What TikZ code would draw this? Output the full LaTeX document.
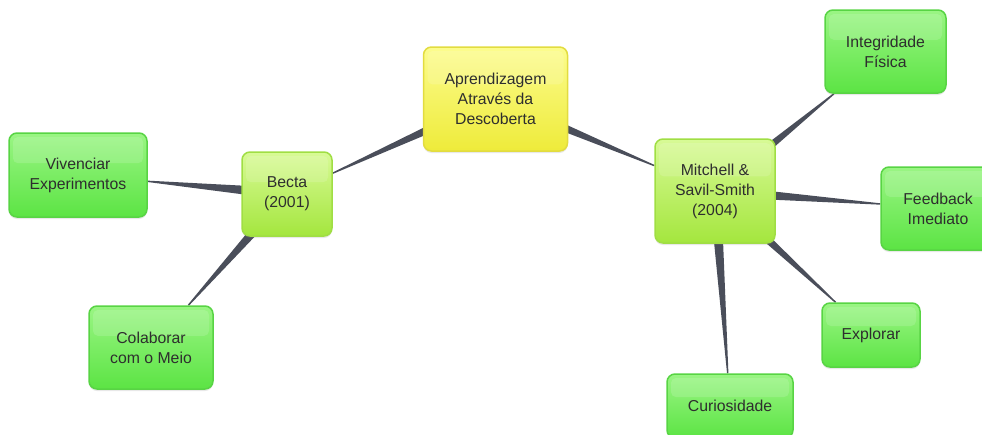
\documentclass[tikz,border=0pt]{standalone}
\usepackage{fontspec}
\setmainfont{Liberation Sans}
\usetikzlibrary{calc,shadows}
\pgfdeclarelayer{background}
\pgfsetlayers{background,main}
\definecolor{conncol}{HTML}{4A4E5A}
\definecolor{txtcol}{HTML}{2E2E2E}
\definecolor{leafTop}{HTML}{9AF584}
\definecolor{leafBot}{HTML}{5CE444}
\definecolor{leafBd}{HTML}{58D444}
\definecolor{midTop}{HTML}{D8FA96}
\definecolor{midBot}{HTML}{A4E63E}
\definecolor{midBd}{HTML}{A0DE44}
\definecolor{rootTop}{HTML}{FCFC8E}
\definecolor{rootBot}{HTML}{EEEB3A}
\definecolor{rootBd}{HTML}{E2DC40}
\newcommand\myconn[2]{%
  \path (#1.center) -- (#2) coordinate[pos=1] (tip);
  \fill[conncol] ($(#1.center)!6pt!90:(tip)$) -- ($(tip)!0.7pt!-90:(#1.center)$)
     -- ($(tip)!0.7pt!90:(#1.center)$) -- ($(#1.center)!6pt!-90:(tip)$) -- cycle;}
\tikzset{
  box/.style={rounded corners=8pt, line width=1.5pt, inner sep=0pt, align=center,
    text=txtcol, font=\fontsize{15.8}{20}\selectfont,
    drop shadow={shadow xshift=0pt, shadow yshift=-2pt, opacity=0.18},
    path picture={\fill[white,opacity=0.14,rounded corners=5pt]
      ($(path picture bounding box.north west)+(4pt,-4pt)$) rectangle
      ($(path picture bounding box.north east)!0.36!(path picture bounding box.south east)+(-4pt,0)$);}},
  leaf/.style={box, draw=leafBd, top color=leafTop, bottom color=leafBot},
  mid/.style={box, draw=midBd, top color=midTop, bottom color=midBot},
  root/.style={box, draw=rootBd, top color=rootTop, bottom color=rootBot},
}
\begin{document}
\begin{tikzpicture}[x=1pt,y=-1pt]
\useasboundingbox (0,0) rectangle (982,434);
\clip (0,0) rectangle (982,434);
\node[root, minimum width=144pt, minimum height=104pt] (ap) at (495.5,99) {Aprendizagem\\Através da\\Descoberta};
\node[mid, minimum width=120pt, minimum height=104pt] (mi) at (715,191) {Mitchell \&\\Savil-Smith\\(2004)};
\node[mid, minimum width=90pt, minimum height=84pt] (be) at (287,194) {Becta\\(2001)};
\node[leaf, minimum width=138pt, minimum height=84pt] (vi) at (78,175) {Vivenciar\\Experimentos};
\node[leaf, minimum width=124pt, minimum height=83pt] (co) at (151,347.5) {Colaborar\\com o Meio};
\node[leaf, minimum width=121pt, minimum height=83pt] (in) at (885.5,51.5) {Integridade\\Física};
\node[leaf, minimum width=114pt, minimum height=83pt] (fe) at (938,208.5) {Feedback\\Imediato};
\node[leaf, minimum width=98pt, minimum height=64pt] (ex) at (871,335) {Explorar};
\node[leaf, minimum width=126pt, minimum height=64pt] (cu) at (730,406) {Curiosidade};
\begin{pgfonlayer}{background}
\myconn{ap}{be}
\myconn{ap}{mi}
\myconn{be}{vi}
\myconn{be}{co}
\myconn{mi}{in}
\myconn{mi}{fe}
\myconn{mi}{ex}
\myconn{mi}{cu}
\end{pgfonlayer}
\end{tikzpicture}
\end{document}
